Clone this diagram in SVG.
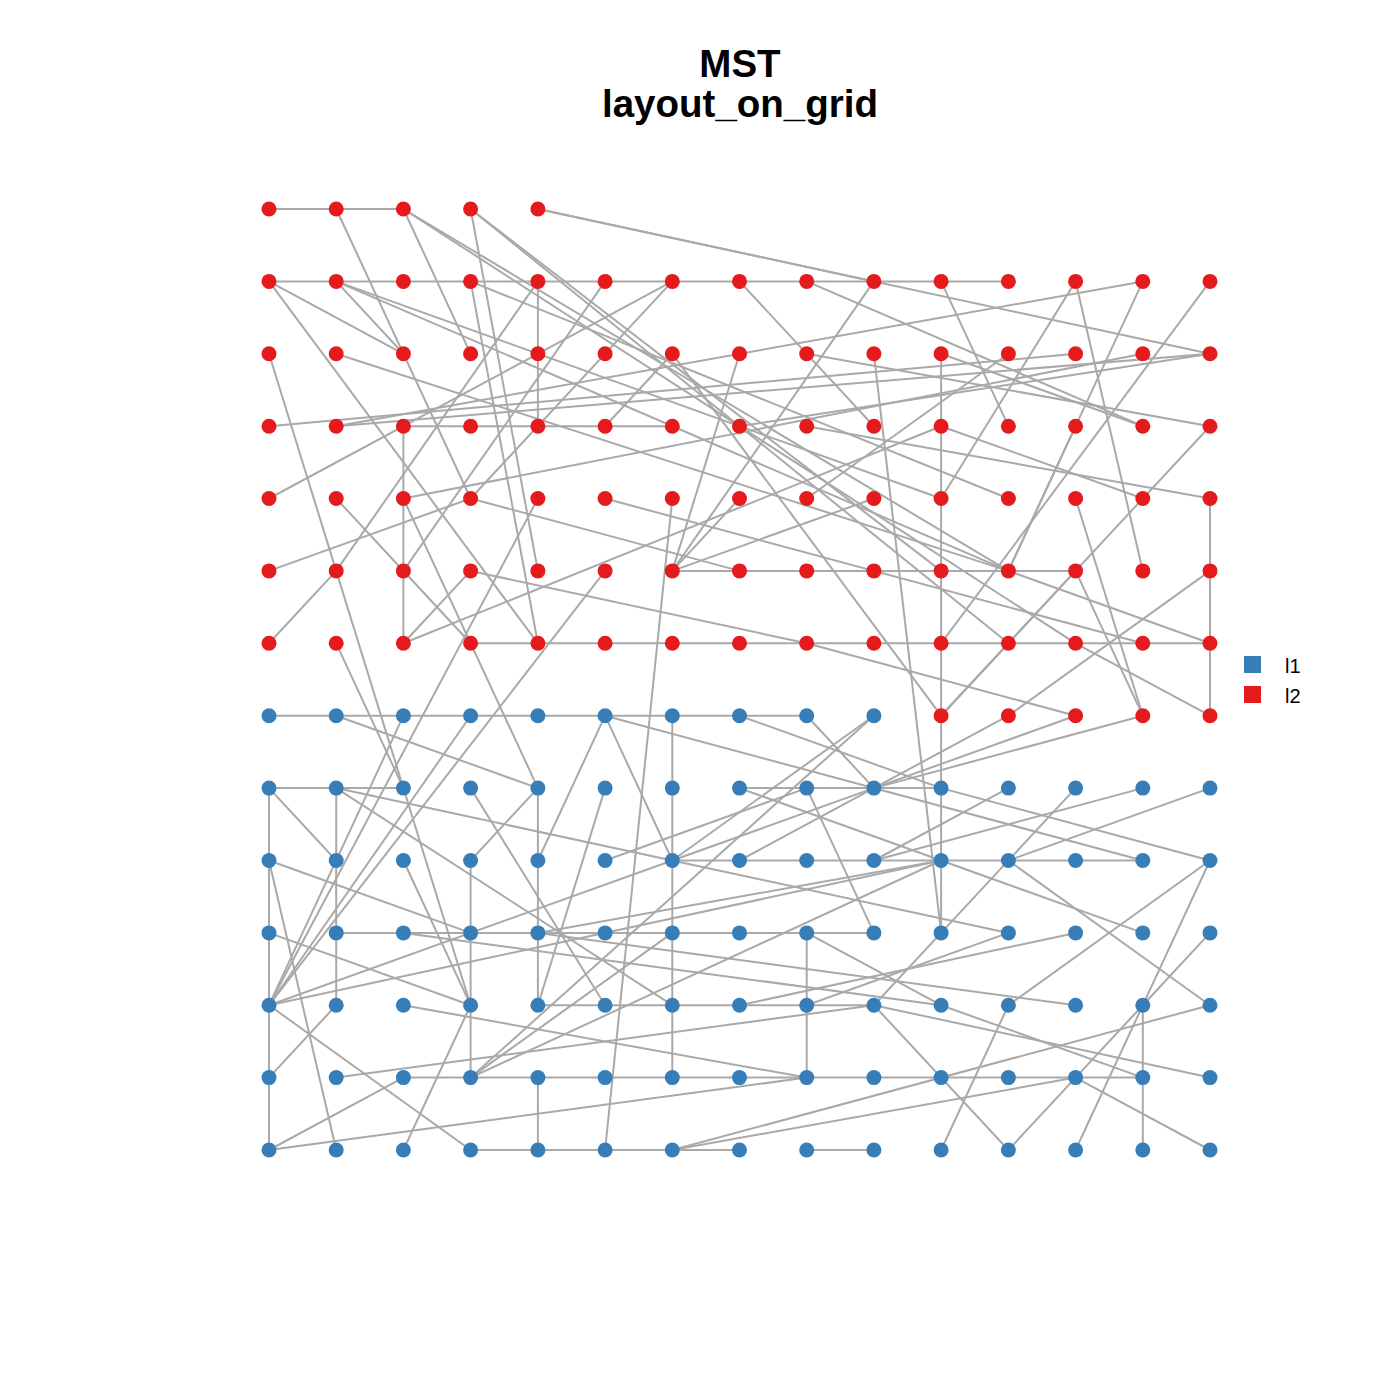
<svg xmlns="http://www.w3.org/2000/svg" width="1400" height="1400" viewBox="0 0 1400 1400">
<style>
.e{stroke:#A9A9A9;stroke-width:2;fill:none}
.r{fill:#E41A1C}
.b{fill:#377EB8}
.t{font-family:"Liberation Sans",Arial,sans-serif;font-weight:bold;font-size:38.5px;text-anchor:middle;fill:#000}
.l{font-family:"Liberation Sans",Arial,sans-serif;font-size:20px;fill:#000}
</style>
<rect width="1400" height="1400" fill="#fff"/>
<text class="t" x="740" y="77">MST</text>
<text class="t" x="740" y="117">layout_on_grid</text>
<g id="edges">
<line class="e" x1="269" y1="209" x2="336.2" y2="209"/>
<line class="e" x1="336.2" y1="209" x2="403.4" y2="209"/>
<line class="e" x1="336.2" y1="209" x2="470.6" y2="498.5"/>
<line class="e" x1="403.4" y1="209" x2="470.6" y2="353.8"/>
<line class="e" x1="403.4" y1="209" x2="1008.4" y2="570.9"/>
<line class="e" x1="403.4" y1="209" x2="1075.6" y2="643.3"/>
<line class="e" x1="470.6" y1="209" x2="537.9" y2="570.9"/>
<line class="e" x1="470.6" y1="209" x2="941.1" y2="570.9"/>
<line class="e" x1="470.6" y1="209" x2="1008.4" y2="643.3"/>
<line class="e" x1="537.9" y1="209" x2="873.9" y2="281.4"/>
<line class="e" x1="537.9" y1="209" x2="1210" y2="353.8"/>
<line class="e" x1="269" y1="281.4" x2="336.2" y2="281.4"/>
<line class="e" x1="336.2" y1="281.4" x2="403.4" y2="281.4"/>
<line class="e" x1="403.4" y1="281.4" x2="470.6" y2="281.4"/>
<line class="e" x1="470.6" y1="281.4" x2="537.9" y2="281.4"/>
<line class="e" x1="537.9" y1="281.4" x2="605.1" y2="281.4"/>
<line class="e" x1="605.1" y1="281.4" x2="672.3" y2="281.4"/>
<line class="e" x1="672.3" y1="281.4" x2="739.5" y2="281.4"/>
<line class="e" x1="739.5" y1="281.4" x2="806.7" y2="281.4"/>
<line class="e" x1="806.7" y1="281.4" x2="873.9" y2="281.4"/>
<line class="e" x1="873.9" y1="281.4" x2="941.1" y2="281.4"/>
<line class="e" x1="941.1" y1="281.4" x2="1008.4" y2="281.4"/>
<line class="e" x1="269" y1="281.4" x2="403.4" y2="353.8"/>
<line class="e" x1="269" y1="281.4" x2="537.9" y2="643.3"/>
<line class="e" x1="336.2" y1="281.4" x2="403.4" y2="353.8"/>
<line class="e" x1="336.2" y1="281.4" x2="941.1" y2="498.5"/>
<line class="e" x1="336.2" y1="281.4" x2="1008.4" y2="570.9"/>
<line class="e" x1="470.6" y1="281.4" x2="537.9" y2="643.3"/>
<line class="e" x1="470.6" y1="281.4" x2="1008.4" y2="498.5"/>
<line class="e" x1="537.9" y1="281.4" x2="537.9" y2="353.8"/>
<line class="e" x1="537.9" y1="353.8" x2="537.9" y2="426.2"/>
<line class="e" x1="537.9" y1="281.4" x2="336.2" y2="570.9"/>
<line class="e" x1="605.1" y1="281.4" x2="403.4" y2="570.9"/>
<line class="e" x1="269" y1="498.5" x2="672.3" y2="281.4"/>
<line class="e" x1="672.3" y1="281.4" x2="470.6" y2="498.5"/>
<line class="e" x1="739.5" y1="281.4" x2="873.9" y2="426.2"/>
<line class="e" x1="806.7" y1="281.4" x2="1142.8" y2="426.2"/>
<line class="e" x1="873.9" y1="281.4" x2="672.3" y2="570.9"/>
<line class="e" x1="336.2" y1="426.2" x2="1142.8" y2="281.4"/>
<line class="e" x1="739.5" y1="353.8" x2="672.3" y2="570.9"/>
<line class="e" x1="806.7" y1="353.8" x2="1210" y2="426.2"/>
<line class="e" x1="873.9" y1="353.8" x2="941.1" y2="932.9"/>
<line class="e" x1="941.1" y1="281.4" x2="1008.4" y2="426.2"/>
<line class="e" x1="1075.6" y1="281.4" x2="941.1" y2="498.5"/>
<line class="e" x1="1075.6" y1="281.4" x2="1142.8" y2="570.9"/>
<line class="e" x1="1142.8" y1="281.4" x2="1008.4" y2="570.9"/>
<line class="e" x1="1210" y1="281.4" x2="941.1" y2="643.3"/>
<line class="e" x1="941.1" y1="353.8" x2="1142.8" y2="426.2"/>
<line class="e" x1="269" y1="353.8" x2="336.2" y2="570.9"/>
<line class="e" x1="336.2" y1="570.9" x2="470.6" y2="1005.2"/>
<line class="e" x1="336.2" y1="643.3" x2="403.4" y2="788.1"/>
<line class="e" x1="403.4" y1="426.2" x2="403.4" y2="498.5"/>
<line class="e" x1="403.4" y1="498.5" x2="403.4" y2="570.9"/>
<line class="e" x1="403.4" y1="570.9" x2="403.4" y2="643.3"/>
<line class="e" x1="403.4" y1="498.5" x2="537.9" y2="788.1"/>
<line class="e" x1="403.4" y1="643.3" x2="470.6" y2="570.9"/>
<line class="e" x1="403.4" y1="643.3" x2="941.1" y2="426.2"/>
<line class="e" x1="269" y1="570.9" x2="470.6" y2="498.5"/>
<line class="e" x1="269" y1="643.3" x2="336.2" y2="570.9"/>
<line class="e" x1="470.6" y1="498.5" x2="739.5" y2="570.9"/>
<line class="e" x1="470.6" y1="570.9" x2="806.7" y2="643.3"/>
<line class="e" x1="672.3" y1="570.9" x2="739.5" y2="570.9"/>
<line class="e" x1="739.5" y1="570.9" x2="806.7" y2="570.9"/>
<line class="e" x1="806.7" y1="570.9" x2="873.9" y2="570.9"/>
<line class="e" x1="873.9" y1="570.9" x2="941.1" y2="570.9"/>
<line class="e" x1="941.1" y1="570.9" x2="1008.4" y2="570.9"/>
<line class="e" x1="1008.4" y1="570.9" x2="1075.6" y2="570.9"/>
<line class="e" x1="403.4" y1="426.2" x2="470.6" y2="426.2"/>
<line class="e" x1="470.6" y1="426.2" x2="537.9" y2="426.2"/>
<line class="e" x1="537.9" y1="426.2" x2="605.1" y2="426.2"/>
<line class="e" x1="605.1" y1="426.2" x2="672.3" y2="426.2"/>
<line class="e" x1="470.6" y1="643.3" x2="537.9" y2="643.3"/>
<line class="e" x1="537.9" y1="643.3" x2="605.1" y2="643.3"/>
<line class="e" x1="605.1" y1="643.3" x2="672.3" y2="643.3"/>
<line class="e" x1="672.3" y1="643.3" x2="739.5" y2="643.3"/>
<line class="e" x1="739.5" y1="643.3" x2="806.7" y2="643.3"/>
<line class="e" x1="806.7" y1="643.3" x2="873.9" y2="643.3"/>
<line class="e" x1="873.9" y1="643.3" x2="941.1" y2="643.3"/>
<line class="e" x1="941.1" y1="643.3" x2="1008.4" y2="643.3"/>
<line class="e" x1="1008.4" y1="643.3" x2="1075.6" y2="643.3"/>
<line class="e" x1="1075.6" y1="643.3" x2="1142.8" y2="643.3"/>
<line class="e" x1="1142.8" y1="643.3" x2="1210" y2="643.3"/>
<line class="e" x1="1210" y1="498.5" x2="1210" y2="570.9"/>
<line class="e" x1="1210" y1="570.9" x2="1210" y2="643.3"/>
<line class="e" x1="1210" y1="643.3" x2="1210" y2="715.7"/>
<line class="e" x1="941.1" y1="353.8" x2="941.1" y2="426.2"/>
<line class="e" x1="941.1" y1="426.2" x2="941.1" y2="498.5"/>
<line class="e" x1="941.1" y1="498.5" x2="941.1" y2="570.9"/>
<line class="e" x1="941.1" y1="570.9" x2="941.1" y2="643.3"/>
<line class="e" x1="941.1" y1="643.3" x2="941.1" y2="715.7"/>
<line class="e" x1="1075.6" y1="426.2" x2="1008.4" y2="570.9"/>
<line class="e" x1="1075.6" y1="498.5" x2="1142.8" y2="715.7"/>
<line class="e" x1="1075.6" y1="570.9" x2="1142.8" y2="715.7"/>
<line class="e" x1="1008.4" y1="715.7" x2="1210" y2="570.9"/>
<line class="e" x1="1075.6" y1="643.3" x2="1210" y2="715.7"/>
<line class="e" x1="1008.4" y1="570.9" x2="1210" y2="643.3"/>
<line class="e" x1="806.7" y1="643.3" x2="1075.6" y2="715.7"/>
<line class="e" x1="269" y1="426.2" x2="1075.6" y2="353.8"/>
<line class="e" x1="336.2" y1="426.2" x2="1210" y2="353.8"/>
<line class="e" x1="739.5" y1="426.2" x2="1210" y2="353.8"/>
<line class="e" x1="336.2" y1="353.8" x2="1008.4" y2="570.9"/>
<line class="e" x1="672.3" y1="353.8" x2="941.1" y2="715.7"/>
<line class="e" x1="605.1" y1="426.2" x2="672.3" y2="353.8"/>
<line class="e" x1="1142.8" y1="353.8" x2="403.4" y2="498.5"/>
<line class="e" x1="1008.4" y1="353.8" x2="806.7" y2="498.5"/>
<line class="e" x1="941.1" y1="426.2" x2="1142.8" y2="498.5"/>
<line class="e" x1="806.7" y1="426.2" x2="1210" y2="498.5"/>
<line class="e" x1="336.2" y1="498.5" x2="470.6" y2="643.3"/>
<line class="e" x1="605.1" y1="498.5" x2="1142.8" y2="643.3"/>
<line class="e" x1="739.5" y1="498.5" x2="672.3" y2="570.9"/>
<line class="e" x1="873.9" y1="498.5" x2="672.3" y2="570.9"/>
<line class="e" x1="941.1" y1="715.7" x2="1075.6" y2="570.9"/>
<line class="e" x1="941.1" y1="715.7" x2="1210" y2="426.2"/>
<line class="e" x1="269" y1="715.7" x2="336.2" y2="715.7"/>
<line class="e" x1="336.2" y1="715.7" x2="403.4" y2="715.7"/>
<line class="e" x1="403.4" y1="715.7" x2="470.6" y2="715.7"/>
<line class="e" x1="470.6" y1="715.7" x2="537.9" y2="715.7"/>
<line class="e" x1="537.9" y1="715.7" x2="605.1" y2="715.7"/>
<line class="e" x1="605.1" y1="715.7" x2="672.3" y2="715.7"/>
<line class="e" x1="672.3" y1="715.7" x2="739.5" y2="715.7"/>
<line class="e" x1="739.5" y1="715.7" x2="806.7" y2="715.7"/>
<line class="e" x1="336.2" y1="715.7" x2="537.9" y2="788.1"/>
<line class="e" x1="269" y1="1005.2" x2="403.4" y2="715.7"/>
<line class="e" x1="269" y1="1005.2" x2="470.6" y2="715.7"/>
<line class="e" x1="269" y1="1005.2" x2="537.9" y2="498.5"/>
<line class="e" x1="269" y1="1005.2" x2="605.1" y2="570.9"/>
<line class="e" x1="269" y1="1005.2" x2="672.3" y2="860.5"/>
<line class="e" x1="269" y1="1005.2" x2="941.1" y2="860.5"/>
<line class="e" x1="269" y1="788.1" x2="336.2" y2="788.1"/>
<line class="e" x1="336.2" y1="788.1" x2="403.4" y2="788.1"/>
<line class="e" x1="739.5" y1="788.1" x2="806.7" y2="788.1"/>
<line class="e" x1="806.7" y1="788.1" x2="873.9" y2="788.1"/>
<line class="e" x1="873.9" y1="788.1" x2="941.1" y2="788.1"/>
<line class="e" x1="269" y1="788.1" x2="269" y2="860.5"/>
<line class="e" x1="269" y1="860.5" x2="269" y2="932.9"/>
<line class="e" x1="269" y1="932.9" x2="269" y2="1005.2"/>
<line class="e" x1="269" y1="1005.2" x2="269" y2="1077.6"/>
<line class="e" x1="269" y1="1077.6" x2="269" y2="1150"/>
<line class="e" x1="269" y1="788.1" x2="336.2" y2="860.5"/>
<line class="e" x1="336.2" y1="788.1" x2="336.2" y2="860.5"/>
<line class="e" x1="336.2" y1="860.5" x2="336.2" y2="932.9"/>
<line class="e" x1="336.2" y1="932.9" x2="336.2" y2="1005.2"/>
<line class="e" x1="336.2" y1="788.1" x2="1008.4" y2="932.9"/>
<line class="e" x1="336.2" y1="788.1" x2="672.3" y2="1005.2"/>
<line class="e" x1="269" y1="860.5" x2="470.6" y2="932.9"/>
<line class="e" x1="470.6" y1="788.1" x2="605.1" y2="1005.2"/>
<line class="e" x1="403.4" y1="860.5" x2="470.6" y2="1005.2"/>
<line class="e" x1="470.6" y1="860.5" x2="537.9" y2="788.1"/>
<line class="e" x1="470.6" y1="860.5" x2="470.6" y2="932.9"/>
<line class="e" x1="470.6" y1="932.9" x2="470.6" y2="1005.2"/>
<line class="e" x1="470.6" y1="1005.2" x2="470.6" y2="1077.6"/>
<line class="e" x1="537.9" y1="788.1" x2="537.9" y2="860.5"/>
<line class="e" x1="537.9" y1="860.5" x2="537.9" y2="932.9"/>
<line class="e" x1="537.9" y1="932.9" x2="537.9" y2="1005.2"/>
<line class="e" x1="537.9" y1="1077.6" x2="537.9" y2="1150"/>
<line class="e" x1="269" y1="932.9" x2="470.6" y2="1005.2"/>
<line class="e" x1="269" y1="1005.2" x2="470.6" y2="1150"/>
<line class="e" x1="269" y1="1077.6" x2="336.2" y2="1005.2"/>
<line class="e" x1="269" y1="1150" x2="403.4" y2="1077.6"/>
<line class="e" x1="269" y1="1150" x2="806.7" y2="1077.6"/>
<line class="e" x1="336.2" y1="1150" x2="269" y2="860.5"/>
<line class="e" x1="403.4" y1="1150" x2="470.6" y2="1005.2"/>
<line class="e" x1="470.6" y1="1150" x2="537.9" y2="1150"/>
<line class="e" x1="537.9" y1="1150" x2="605.1" y2="1150"/>
<line class="e" x1="605.1" y1="1150" x2="672.3" y2="1150"/>
<line class="e" x1="672.3" y1="1150" x2="739.5" y2="1150"/>
<line class="e" x1="806.7" y1="1150" x2="873.9" y2="1150"/>
<line class="e" x1="403.4" y1="1077.6" x2="470.6" y2="1077.6"/>
<line class="e" x1="470.6" y1="1077.6" x2="537.9" y2="1077.6"/>
<line class="e" x1="537.9" y1="1077.6" x2="605.1" y2="1077.6"/>
<line class="e" x1="605.1" y1="1077.6" x2="672.3" y2="1077.6"/>
<line class="e" x1="672.3" y1="1077.6" x2="739.5" y2="1077.6"/>
<line class="e" x1="739.5" y1="1077.6" x2="806.7" y2="1077.6"/>
<line class="e" x1="806.7" y1="1077.6" x2="873.9" y2="1077.6"/>
<line class="e" x1="873.9" y1="1077.6" x2="941.1" y2="1077.6"/>
<line class="e" x1="941.1" y1="1077.6" x2="1008.4" y2="1077.6"/>
<line class="e" x1="1008.4" y1="1077.6" x2="1075.6" y2="1077.6"/>
<line class="e" x1="1075.6" y1="1077.6" x2="1142.8" y2="1077.6"/>
<line class="e" x1="336.2" y1="932.9" x2="403.4" y2="932.9"/>
<line class="e" x1="403.4" y1="932.9" x2="470.6" y2="932.9"/>
<line class="e" x1="470.6" y1="932.9" x2="537.9" y2="932.9"/>
<line class="e" x1="537.9" y1="932.9" x2="605.1" y2="932.9"/>
<line class="e" x1="605.1" y1="932.9" x2="672.3" y2="932.9"/>
<line class="e" x1="672.3" y1="932.9" x2="739.5" y2="932.9"/>
<line class="e" x1="739.5" y1="932.9" x2="806.7" y2="932.9"/>
<line class="e" x1="806.7" y1="932.9" x2="873.9" y2="932.9"/>
<line class="e" x1="537.9" y1="1005.2" x2="605.1" y2="1005.2"/>
<line class="e" x1="605.1" y1="1005.2" x2="672.3" y2="1005.2"/>
<line class="e" x1="672.3" y1="1005.2" x2="739.5" y2="1005.2"/>
<line class="e" x1="739.5" y1="1005.2" x2="806.7" y2="1005.2"/>
<line class="e" x1="806.7" y1="1005.2" x2="873.9" y2="1005.2"/>
<line class="e" x1="672.3" y1="715.7" x2="672.3" y2="788.1"/>
<line class="e" x1="672.3" y1="788.1" x2="672.3" y2="860.5"/>
<line class="e" x1="672.3" y1="860.5" x2="672.3" y2="932.9"/>
<line class="e" x1="672.3" y1="932.9" x2="672.3" y2="1005.2"/>
<line class="e" x1="672.3" y1="1005.2" x2="672.3" y2="1077.6"/>
<line class="e" x1="806.7" y1="932.9" x2="806.7" y2="1005.2"/>
<line class="e" x1="806.7" y1="1005.2" x2="806.7" y2="1077.6"/>
<line class="e" x1="1142.8" y1="1005.2" x2="1142.8" y2="1077.6"/>
<line class="e" x1="1142.8" y1="1077.6" x2="1142.8" y2="1150"/>
<line class="e" x1="941.1" y1="715.7" x2="941.1" y2="788.1"/>
<line class="e" x1="941.1" y1="788.1" x2="941.1" y2="860.5"/>
<line class="e" x1="941.1" y1="860.5" x2="941.1" y2="932.9"/>
<line class="e" x1="672.3" y1="860.5" x2="739.5" y2="860.5"/>
<line class="e" x1="739.5" y1="860.5" x2="806.7" y2="860.5"/>
<line class="e" x1="806.7" y1="860.5" x2="873.9" y2="860.5"/>
<line class="e" x1="873.9" y1="860.5" x2="941.1" y2="860.5"/>
<line class="e" x1="941.1" y1="860.5" x2="1008.4" y2="860.5"/>
<line class="e" x1="1008.4" y1="860.5" x2="1075.6" y2="860.5"/>
<line class="e" x1="1075.6" y1="860.5" x2="1142.8" y2="860.5"/>
<line class="e" x1="941.1" y1="932.9" x2="873.9" y2="1005.2"/>
<line class="e" x1="1008.4" y1="932.9" x2="806.7" y2="1005.2"/>
<line class="e" x1="1075.6" y1="932.9" x2="739.5" y2="1005.2"/>
<line class="e" x1="1210" y1="932.9" x2="1142.8" y2="1005.2"/>
<line class="e" x1="1210" y1="860.5" x2="1142.8" y2="1005.2"/>
<line class="e" x1="1210" y1="860.5" x2="1008.4" y2="1005.2"/>
<line class="e" x1="1210" y1="1005.2" x2="1008.4" y2="860.5"/>
<line class="e" x1="1142.8" y1="1005.2" x2="1075.6" y2="1077.6"/>
<line class="e" x1="1142.8" y1="1005.2" x2="1075.6" y2="1150"/>
<line class="e" x1="1075.6" y1="1077.6" x2="1008.4" y2="1150"/>
<line class="e" x1="1075.6" y1="1077.6" x2="1210" y2="1150"/>
<line class="e" x1="1008.4" y1="1005.2" x2="941.1" y2="1150"/>
<line class="e" x1="873.9" y1="1005.2" x2="1008.4" y2="1150"/>
<line class="e" x1="941.1" y1="1005.2" x2="1142.8" y2="1077.6"/>
<line class="e" x1="941.1" y1="1005.2" x2="806.7" y2="932.9"/>
<line class="e" x1="1210" y1="788.1" x2="1008.4" y2="860.5"/>
<line class="e" x1="1142.8" y1="788.1" x2="873.9" y2="860.5"/>
<line class="e" x1="1075.6" y1="788.1" x2="941.1" y2="932.9"/>
<line class="e" x1="1008.4" y1="788.1" x2="873.9" y2="860.5"/>
<line class="e" x1="941.1" y1="788.1" x2="1210" y2="860.5"/>
<line class="e" x1="739.5" y1="715.7" x2="941.1" y2="788.1"/>
<line class="e" x1="1008.4" y1="715.7" x2="873.9" y2="788.1"/>
<line class="e" x1="1142.8" y1="715.7" x2="873.9" y2="788.1"/>
<line class="e" x1="1075.6" y1="715.7" x2="672.3" y2="860.5"/>
<line class="e" x1="873.9" y1="715.7" x2="672.3" y2="860.5"/>
<line class="e" x1="806.7" y1="715.7" x2="873.9" y2="788.1"/>
<line class="e" x1="605.1" y1="715.7" x2="537.9" y2="860.5"/>
<line class="e" x1="605.1" y1="715.7" x2="672.3" y2="860.5"/>
<line class="e" x1="605.1" y1="715.7" x2="1142.8" y2="860.5"/>
<line class="e" x1="605.1" y1="788.1" x2="537.9" y2="1005.2"/>
<line class="e" x1="739.5" y1="788.1" x2="1142.8" y2="932.9"/>
<line class="e" x1="806.7" y1="788.1" x2="873.9" y2="932.9"/>
<line class="e" x1="873.9" y1="788.1" x2="739.5" y2="860.5"/>
<line class="e" x1="403.4" y1="1005.2" x2="806.7" y2="1077.6"/>
<line class="e" x1="470.6" y1="1077.6" x2="873.9" y2="715.7"/>
<line class="e" x1="470.6" y1="1077.6" x2="672.3" y2="932.9"/>
<line class="e" x1="470.6" y1="1077.6" x2="941.1" y2="860.5"/>
<line class="e" x1="672.3" y1="1150" x2="1075.6" y2="1077.6"/>
<line class="e" x1="672.3" y1="1150" x2="1210" y2="1005.2"/>
<line class="e" x1="605.1" y1="1150" x2="672.3" y2="498.5"/>
<line class="e" x1="403.4" y1="932.9" x2="941.1" y2="1005.2"/>
<line class="e" x1="336.2" y1="1077.6" x2="873.9" y2="1005.2"/>
<line class="e" x1="537.9" y1="932.9" x2="1075.6" y2="1005.2"/>
<line class="e" x1="1210" y1="1077.6" x2="873.9" y2="1005.2"/>
<line class="e" x1="605.1" y1="860.5" x2="806.7" y2="788.1"/>
<line class="e" x1="537.9" y1="932.9" x2="941.1" y2="860.5"/>
</g>
<g id="nodes">
<g id="n0_0"><circle class="r" cx="269" cy="209" r="7.5"/></g>
<g id="n1_0"><circle class="r" cx="336.2" cy="209" r="7.5"/></g>
<g id="n2_0"><circle class="r" cx="403.4" cy="209" r="7.5"/></g>
<g id="n3_0"><circle class="r" cx="470.6" cy="209" r="7.5"/></g>
<g id="n4_0"><circle class="r" cx="537.9" cy="209" r="7.5"/></g>
<g id="n0_1"><circle class="r" cx="269" cy="281.4" r="7.5"/></g>
<g id="n1_1"><circle class="r" cx="336.2" cy="281.4" r="7.5"/></g>
<g id="n2_1"><circle class="r" cx="403.4" cy="281.4" r="7.5"/></g>
<g id="n3_1"><circle class="r" cx="470.6" cy="281.4" r="7.5"/></g>
<g id="n4_1"><circle class="r" cx="537.9" cy="281.4" r="7.5"/></g>
<g id="n5_1"><circle class="r" cx="605.1" cy="281.4" r="7.5"/></g>
<g id="n6_1"><circle class="r" cx="672.3" cy="281.4" r="7.5"/></g>
<g id="n7_1"><circle class="r" cx="739.5" cy="281.4" r="7.5"/></g>
<g id="n8_1"><circle class="r" cx="806.7" cy="281.4" r="7.5"/></g>
<g id="n9_1"><circle class="r" cx="873.9" cy="281.4" r="7.5"/></g>
<g id="n10_1"><circle class="r" cx="941.1" cy="281.4" r="7.5"/></g>
<g id="n11_1"><circle class="r" cx="1008.4" cy="281.4" r="7.5"/></g>
<g id="n12_1"><circle class="r" cx="1075.6" cy="281.4" r="7.5"/></g>
<g id="n13_1"><circle class="r" cx="1142.8" cy="281.4" r="7.5"/></g>
<g id="n14_1"><circle class="r" cx="1210" cy="281.4" r="7.5"/></g>
<g id="n0_2"><circle class="r" cx="269" cy="353.8" r="7.5"/></g>
<g id="n1_2"><circle class="r" cx="336.2" cy="353.8" r="7.5"/></g>
<g id="n2_2"><circle class="r" cx="403.4" cy="353.8" r="7.5"/></g>
<g id="n3_2"><circle class="r" cx="470.6" cy="353.8" r="7.5"/></g>
<g id="n4_2"><circle class="r" cx="537.9" cy="353.8" r="7.5"/></g>
<g id="n5_2"><circle class="r" cx="605.1" cy="353.8" r="7.5"/></g>
<g id="n6_2"><circle class="r" cx="672.3" cy="353.8" r="7.5"/></g>
<g id="n7_2"><circle class="r" cx="739.5" cy="353.8" r="7.5"/></g>
<g id="n8_2"><circle class="r" cx="806.7" cy="353.8" r="7.5"/></g>
<g id="n9_2"><circle class="r" cx="873.9" cy="353.8" r="7.5"/></g>
<g id="n10_2"><circle class="r" cx="941.1" cy="353.8" r="7.5"/></g>
<g id="n11_2"><circle class="r" cx="1008.4" cy="353.8" r="7.5"/></g>
<g id="n12_2"><circle class="r" cx="1075.6" cy="353.8" r="7.5"/></g>
<g id="n13_2"><circle class="r" cx="1142.8" cy="353.8" r="7.5"/></g>
<g id="n14_2"><circle class="r" cx="1210" cy="353.8" r="7.5"/></g>
<g id="n0_3"><circle class="r" cx="269" cy="426.2" r="7.5"/></g>
<g id="n1_3"><circle class="r" cx="336.2" cy="426.2" r="7.5"/></g>
<g id="n2_3"><circle class="r" cx="403.4" cy="426.2" r="7.5"/></g>
<g id="n3_3"><circle class="r" cx="470.6" cy="426.2" r="7.5"/></g>
<g id="n4_3"><circle class="r" cx="537.9" cy="426.2" r="7.5"/></g>
<g id="n5_3"><circle class="r" cx="605.1" cy="426.2" r="7.5"/></g>
<g id="n6_3"><circle class="r" cx="672.3" cy="426.2" r="7.5"/></g>
<g id="n7_3"><circle class="r" cx="739.5" cy="426.2" r="7.5"/></g>
<g id="n8_3"><circle class="r" cx="806.7" cy="426.2" r="7.5"/></g>
<g id="n9_3"><circle class="r" cx="873.9" cy="426.2" r="7.5"/></g>
<g id="n10_3"><circle class="r" cx="941.1" cy="426.2" r="7.5"/></g>
<g id="n11_3"><circle class="r" cx="1008.4" cy="426.2" r="7.5"/></g>
<g id="n12_3"><circle class="r" cx="1075.6" cy="426.2" r="7.5"/></g>
<g id="n13_3"><circle class="r" cx="1142.8" cy="426.2" r="7.5"/></g>
<g id="n14_3"><circle class="r" cx="1210" cy="426.2" r="7.5"/></g>
<g id="n0_4"><circle class="r" cx="269" cy="498.5" r="7.5"/></g>
<g id="n1_4"><circle class="r" cx="336.2" cy="498.5" r="7.5"/></g>
<g id="n2_4"><circle class="r" cx="403.4" cy="498.5" r="7.5"/></g>
<g id="n3_4"><circle class="r" cx="470.6" cy="498.5" r="7.5"/></g>
<g id="n4_4"><circle class="r" cx="537.9" cy="498.5" r="7.5"/></g>
<g id="n5_4"><circle class="r" cx="605.1" cy="498.5" r="7.5"/></g>
<g id="n6_4"><circle class="r" cx="672.3" cy="498.5" r="7.5"/></g>
<g id="n7_4"><circle class="r" cx="739.5" cy="498.5" r="7.5"/></g>
<g id="n8_4"><circle class="r" cx="806.7" cy="498.5" r="7.5"/></g>
<g id="n9_4"><circle class="r" cx="873.9" cy="498.5" r="7.5"/></g>
<g id="n10_4"><circle class="r" cx="941.1" cy="498.5" r="7.5"/></g>
<g id="n11_4"><circle class="r" cx="1008.4" cy="498.5" r="7.5"/></g>
<g id="n12_4"><circle class="r" cx="1075.6" cy="498.5" r="7.5"/></g>
<g id="n13_4"><circle class="r" cx="1142.8" cy="498.5" r="7.5"/></g>
<g id="n14_4"><circle class="r" cx="1210" cy="498.5" r="7.5"/></g>
<g id="n0_5"><circle class="r" cx="269" cy="570.9" r="7.5"/></g>
<g id="n1_5"><circle class="r" cx="336.2" cy="570.9" r="7.5"/></g>
<g id="n2_5"><circle class="r" cx="403.4" cy="570.9" r="7.5"/></g>
<g id="n3_5"><circle class="r" cx="470.6" cy="570.9" r="7.5"/></g>
<g id="n4_5"><circle class="r" cx="537.9" cy="570.9" r="7.5"/></g>
<g id="n5_5"><circle class="r" cx="605.1" cy="570.9" r="7.5"/></g>
<g id="n6_5"><circle class="r" cx="672.3" cy="570.9" r="7.5"/></g>
<g id="n7_5"><circle class="r" cx="739.5" cy="570.9" r="7.5"/></g>
<g id="n8_5"><circle class="r" cx="806.7" cy="570.9" r="7.5"/></g>
<g id="n9_5"><circle class="r" cx="873.9" cy="570.9" r="7.5"/></g>
<g id="n10_5"><circle class="r" cx="941.1" cy="570.9" r="7.5"/></g>
<g id="n11_5"><circle class="r" cx="1008.4" cy="570.9" r="7.5"/></g>
<g id="n12_5"><circle class="r" cx="1075.6" cy="570.9" r="7.5"/></g>
<g id="n13_5"><circle class="r" cx="1142.8" cy="570.9" r="7.5"/></g>
<g id="n14_5"><circle class="r" cx="1210" cy="570.9" r="7.5"/></g>
<g id="n0_6"><circle class="r" cx="269" cy="643.3" r="7.5"/></g>
<g id="n1_6"><circle class="r" cx="336.2" cy="643.3" r="7.5"/></g>
<g id="n2_6"><circle class="r" cx="403.4" cy="643.3" r="7.5"/></g>
<g id="n3_6"><circle class="r" cx="470.6" cy="643.3" r="7.5"/></g>
<g id="n4_6"><circle class="r" cx="537.9" cy="643.3" r="7.5"/></g>
<g id="n5_6"><circle class="r" cx="605.1" cy="643.3" r="7.5"/></g>
<g id="n6_6"><circle class="r" cx="672.3" cy="643.3" r="7.5"/></g>
<g id="n7_6"><circle class="r" cx="739.5" cy="643.3" r="7.5"/></g>
<g id="n8_6"><circle class="r" cx="806.7" cy="643.3" r="7.5"/></g>
<g id="n9_6"><circle class="r" cx="873.9" cy="643.3" r="7.5"/></g>
<g id="n10_6"><circle class="r" cx="941.1" cy="643.3" r="7.5"/></g>
<g id="n11_6"><circle class="r" cx="1008.4" cy="643.3" r="7.5"/></g>
<g id="n12_6"><circle class="r" cx="1075.6" cy="643.3" r="7.5"/></g>
<g id="n13_6"><circle class="r" cx="1142.8" cy="643.3" r="7.5"/></g>
<g id="n14_6"><circle class="r" cx="1210" cy="643.3" r="7.5"/></g>
<g id="n0_7"><circle class="b" cx="269" cy="715.7" r="7.5"/></g>
<g id="n1_7"><circle class="b" cx="336.2" cy="715.7" r="7.5"/></g>
<g id="n2_7"><circle class="b" cx="403.4" cy="715.7" r="7.5"/></g>
<g id="n3_7"><circle class="b" cx="470.6" cy="715.7" r="7.5"/></g>
<g id="n4_7"><circle class="b" cx="537.9" cy="715.7" r="7.5"/></g>
<g id="n5_7"><circle class="b" cx="605.1" cy="715.7" r="7.5"/></g>
<g id="n6_7"><circle class="b" cx="672.3" cy="715.7" r="7.5"/></g>
<g id="n7_7"><circle class="b" cx="739.5" cy="715.7" r="7.5"/></g>
<g id="n8_7"><circle class="b" cx="806.7" cy="715.7" r="7.5"/></g>
<g id="n9_7"><circle class="b" cx="873.9" cy="715.7" r="7.5"/></g>
<g id="n10_7"><circle class="r" cx="941.1" cy="715.7" r="7.5"/></g>
<g id="n11_7"><circle class="r" cx="1008.4" cy="715.7" r="7.5"/></g>
<g id="n12_7"><circle class="r" cx="1075.6" cy="715.7" r="7.5"/></g>
<g id="n13_7"><circle class="r" cx="1142.8" cy="715.7" r="7.5"/></g>
<g id="n14_7"><circle class="r" cx="1210" cy="715.7" r="7.5"/></g>
<g id="n0_8"><circle class="b" cx="269" cy="788.1" r="7.5"/></g>
<g id="n1_8"><circle class="b" cx="336.2" cy="788.1" r="7.5"/></g>
<g id="n2_8"><circle class="b" cx="403.4" cy="788.1" r="7.5"/></g>
<g id="n3_8"><circle class="b" cx="470.6" cy="788.1" r="7.5"/></g>
<g id="n4_8"><circle class="b" cx="537.9" cy="788.1" r="7.5"/></g>
<g id="n5_8"><circle class="b" cx="605.1" cy="788.1" r="7.5"/></g>
<g id="n6_8"><circle class="b" cx="672.3" cy="788.1" r="7.5"/></g>
<g id="n7_8"><circle class="b" cx="739.5" cy="788.1" r="7.5"/></g>
<g id="n8_8"><circle class="b" cx="806.7" cy="788.1" r="7.5"/></g>
<g id="n9_8"><circle class="b" cx="873.9" cy="788.1" r="7.5"/></g>
<g id="n10_8"><circle class="b" cx="941.1" cy="788.1" r="7.5"/></g>
<g id="n11_8"><circle class="b" cx="1008.4" cy="788.1" r="7.5"/></g>
<g id="n12_8"><circle class="b" cx="1075.6" cy="788.1" r="7.5"/></g>
<g id="n13_8"><circle class="b" cx="1142.8" cy="788.1" r="7.5"/></g>
<g id="n14_8"><circle class="b" cx="1210" cy="788.1" r="7.5"/></g>
<g id="n0_9"><circle class="b" cx="269" cy="860.5" r="7.5"/></g>
<g id="n1_9"><circle class="b" cx="336.2" cy="860.5" r="7.5"/></g>
<g id="n2_9"><circle class="b" cx="403.4" cy="860.5" r="7.5"/></g>
<g id="n3_9"><circle class="b" cx="470.6" cy="860.5" r="7.5"/></g>
<g id="n4_9"><circle class="b" cx="537.9" cy="860.5" r="7.5"/></g>
<g id="n5_9"><circle class="b" cx="605.1" cy="860.5" r="7.5"/></g>
<g id="n6_9"><circle class="b" cx="672.3" cy="860.5" r="7.5"/></g>
<g id="n7_9"><circle class="b" cx="739.5" cy="860.5" r="7.5"/></g>
<g id="n8_9"><circle class="b" cx="806.7" cy="860.5" r="7.5"/></g>
<g id="n9_9"><circle class="b" cx="873.9" cy="860.5" r="7.5"/></g>
<g id="n10_9"><circle class="b" cx="941.1" cy="860.5" r="7.5"/></g>
<g id="n11_9"><circle class="b" cx="1008.4" cy="860.5" r="7.5"/></g>
<g id="n12_9"><circle class="b" cx="1075.6" cy="860.5" r="7.5"/></g>
<g id="n13_9"><circle class="b" cx="1142.8" cy="860.5" r="7.5"/></g>
<g id="n14_9"><circle class="b" cx="1210" cy="860.5" r="7.5"/></g>
<g id="n0_10"><circle class="b" cx="269" cy="932.9" r="7.5"/></g>
<g id="n1_10"><circle class="b" cx="336.2" cy="932.9" r="7.5"/></g>
<g id="n2_10"><circle class="b" cx="403.4" cy="932.9" r="7.5"/></g>
<g id="n3_10"><circle class="b" cx="470.6" cy="932.9" r="7.5"/></g>
<g id="n4_10"><circle class="b" cx="537.9" cy="932.9" r="7.5"/></g>
<g id="n5_10"><circle class="b" cx="605.1" cy="932.9" r="7.5"/></g>
<g id="n6_10"><circle class="b" cx="672.3" cy="932.9" r="7.5"/></g>
<g id="n7_10"><circle class="b" cx="739.5" cy="932.9" r="7.5"/></g>
<g id="n8_10"><circle class="b" cx="806.7" cy="932.9" r="7.5"/></g>
<g id="n9_10"><circle class="b" cx="873.9" cy="932.9" r="7.5"/></g>
<g id="n10_10"><circle class="b" cx="941.1" cy="932.9" r="7.5"/></g>
<g id="n11_10"><circle class="b" cx="1008.4" cy="932.9" r="7.5"/></g>
<g id="n12_10"><circle class="b" cx="1075.6" cy="932.9" r="7.5"/></g>
<g id="n13_10"><circle class="b" cx="1142.8" cy="932.9" r="7.5"/></g>
<g id="n14_10"><circle class="b" cx="1210" cy="932.9" r="7.5"/></g>
<g id="n0_11"><circle class="b" cx="269" cy="1005.2" r="7.5"/></g>
<g id="n1_11"><circle class="b" cx="336.2" cy="1005.2" r="7.5"/></g>
<g id="n2_11"><circle class="b" cx="403.4" cy="1005.2" r="7.5"/></g>
<g id="n3_11"><circle class="b" cx="470.6" cy="1005.2" r="7.5"/></g>
<g id="n4_11"><circle class="b" cx="537.9" cy="1005.2" r="7.5"/></g>
<g id="n5_11"><circle class="b" cx="605.1" cy="1005.2" r="7.5"/></g>
<g id="n6_11"><circle class="b" cx="672.3" cy="1005.2" r="7.5"/></g>
<g id="n7_11"><circle class="b" cx="739.5" cy="1005.2" r="7.5"/></g>
<g id="n8_11"><circle class="b" cx="806.7" cy="1005.2" r="7.5"/></g>
<g id="n9_11"><circle class="b" cx="873.9" cy="1005.2" r="7.5"/></g>
<g id="n10_11"><circle class="b" cx="941.1" cy="1005.2" r="7.5"/></g>
<g id="n11_11"><circle class="b" cx="1008.4" cy="1005.2" r="7.5"/></g>
<g id="n12_11"><circle class="b" cx="1075.6" cy="1005.2" r="7.5"/></g>
<g id="n13_11"><circle class="b" cx="1142.8" cy="1005.2" r="7.5"/></g>
<g id="n14_11"><circle class="b" cx="1210" cy="1005.2" r="7.5"/></g>
<g id="n0_12"><circle class="b" cx="269" cy="1077.6" r="7.5"/></g>
<g id="n1_12"><circle class="b" cx="336.2" cy="1077.6" r="7.5"/></g>
<g id="n2_12"><circle class="b" cx="403.4" cy="1077.6" r="7.5"/></g>
<g id="n3_12"><circle class="b" cx="470.6" cy="1077.6" r="7.5"/></g>
<g id="n4_12"><circle class="b" cx="537.9" cy="1077.6" r="7.5"/></g>
<g id="n5_12"><circle class="b" cx="605.1" cy="1077.6" r="7.5"/></g>
<g id="n6_12"><circle class="b" cx="672.3" cy="1077.6" r="7.5"/></g>
<g id="n7_12"><circle class="b" cx="739.5" cy="1077.6" r="7.5"/></g>
<g id="n8_12"><circle class="b" cx="806.7" cy="1077.6" r="7.5"/></g>
<g id="n9_12"><circle class="b" cx="873.9" cy="1077.6" r="7.5"/></g>
<g id="n10_12"><circle class="b" cx="941.1" cy="1077.6" r="7.5"/></g>
<g id="n11_12"><circle class="b" cx="1008.4" cy="1077.6" r="7.5"/></g>
<g id="n12_12"><circle class="b" cx="1075.6" cy="1077.6" r="7.5"/></g>
<g id="n13_12"><circle class="b" cx="1142.8" cy="1077.6" r="7.5"/></g>
<g id="n14_12"><circle class="b" cx="1210" cy="1077.6" r="7.5"/></g>
<g id="n0_13"><circle class="b" cx="269" cy="1150" r="7.5"/></g>
<g id="n1_13"><circle class="b" cx="336.2" cy="1150" r="7.5"/></g>
<g id="n2_13"><circle class="b" cx="403.4" cy="1150" r="7.5"/></g>
<g id="n3_13"><circle class="b" cx="470.6" cy="1150" r="7.5"/></g>
<g id="n4_13"><circle class="b" cx="537.9" cy="1150" r="7.5"/></g>
<g id="n5_13"><circle class="b" cx="605.1" cy="1150" r="7.5"/></g>
<g id="n6_13"><circle class="b" cx="672.3" cy="1150" r="7.5"/></g>
<g id="n7_13"><circle class="b" cx="739.5" cy="1150" r="7.5"/></g>
<g id="n8_13"><circle class="b" cx="806.7" cy="1150" r="7.5"/></g>
<g id="n9_13"><circle class="b" cx="873.9" cy="1150" r="7.5"/></g>
<g id="n10_13"><circle class="b" cx="941.1" cy="1150" r="7.5"/></g>
<g id="n11_13"><circle class="b" cx="1008.4" cy="1150" r="7.5"/></g>
<g id="n12_13"><circle class="b" cx="1075.6" cy="1150" r="7.5"/></g>
<g id="n13_13"><circle class="b" cx="1142.8" cy="1150" r="7.5"/></g>
<g id="n14_13"><circle class="b" cx="1210" cy="1150" r="7.5"/></g>
</g>
<g id="legend">
<rect class="b" x="1244" y="656" width="17" height="17"/>
<rect class="r" x="1244" y="686" width="17" height="17"/>
<text class="l" x="1285" y="673">l1</text>
<text class="l" x="1285" y="703">l2</text>
</g>
</svg>
